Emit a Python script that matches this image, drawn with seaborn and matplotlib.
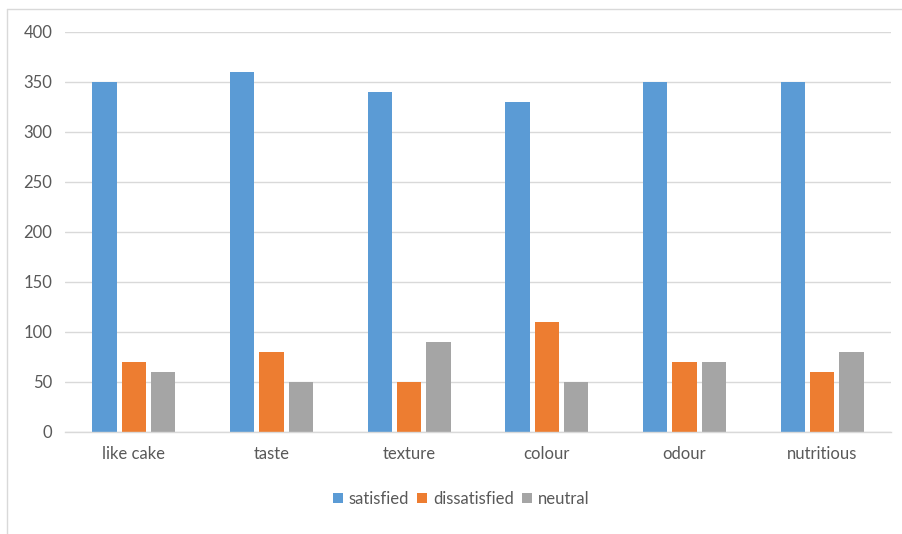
import matplotlib
matplotlib.use("Agg")
import matplotlib.pyplot as plt
from matplotlib.lines import Line2D
import pandas as pd
import seaborn as sns

aspects = ["like cake", "taste", "texture", "colour", "odour", "nutritious"]
satisfied = [350, 360, 340, 330, 350, 350]
dissatisfied = [70, 80, 50, 110, 70, 60]
neutral = [60, 50, 90, 50, 70, 80]
responses = ["satisfied", "dissatisfied", "neutral"]
colors = ["#5B9BD5", "#ED7D31", "#A5A5A5"]
yticks = [0, 50, 100, 150, 200, 250, 300, 350, 400]

rows = []
for resp, vals in zip(responses, [satisfied, dissatisfied, neutral]):
    for a, v in zip(aspects, vals):
        rows.append({"aspect": a, "response": resp, "count": v})
df = pd.DataFrame(rows)

sns.set_theme(style="white")
plt.rcParams["font.family"] = ["Lato", "DejaVu Sans"]

W, H = 902, 534
fig = plt.figure(figsize=(W / 100, H / 100), dpi=100)
fig.patch.set_facecolor("white")
ax = fig.add_axes([65 / W, 1 - 432 / H, (891 - 65) / W, (432 - 32) / H])

sns.barplot(data=df, x="aspect", y="count", hue="response", order=aspects,
            hue_order=responses, palette=colors, saturation=1,
            width=0.64, gap=0.18, linewidth=0, ax=ax, legend=True)

ax.set_ylim(0, 400)
ax.set_xlim(-0.5, len(aspects) - 0.5)
ax.set_yticks(yticks)
ax.set_yticklabels([str(t) for t in yticks])
ax.set_xlabel("")
ax.set_ylabel("")
ax.yaxis.grid(True, color="#D9D9D9", linewidth=1)
ax.set_axisbelow(True)
for side in ["top", "right", "left"]:
    ax.spines[side].set_visible(False)
ax.spines["bottom"].set_color("#D9D9D9")
ax.spines["bottom"].set_linewidth(1)
ax.tick_params(axis="y", length=0, pad=9, labelsize=12, labelcolor="#595959")
ax.tick_params(axis="x", length=0, pad=10, labelsize=12, labelcolor="#595959")

handles, labels = ax.get_legend_handles_labels()
ax.get_legend().remove()
fig.legend(handles, labels, loc="center", bbox_to_anchor=(461 / W, 1 - 499 / H),
           ncol=3, frameon=False, fontsize=12, labelcolor="#595959",
           handlelength=0.6, handleheight=0.6, handletextpad=0.35,
           columnspacing=0.5)

# outer chart frame (top and left edges)
frame_color = "#D9D9D9"
fig.add_artist(Line2D([7 / W, 1.0], [1 - 9 / H, 1 - 9 / H],
                      transform=fig.transFigure, color=frame_color, linewidth=1))
fig.add_artist(Line2D([7 / W, 7 / W], [0.0, 1 - 9 / H],
                      transform=fig.transFigure, color=frame_color, linewidth=1))

fig.savefig("out.png", dpi=100, facecolor="white")
